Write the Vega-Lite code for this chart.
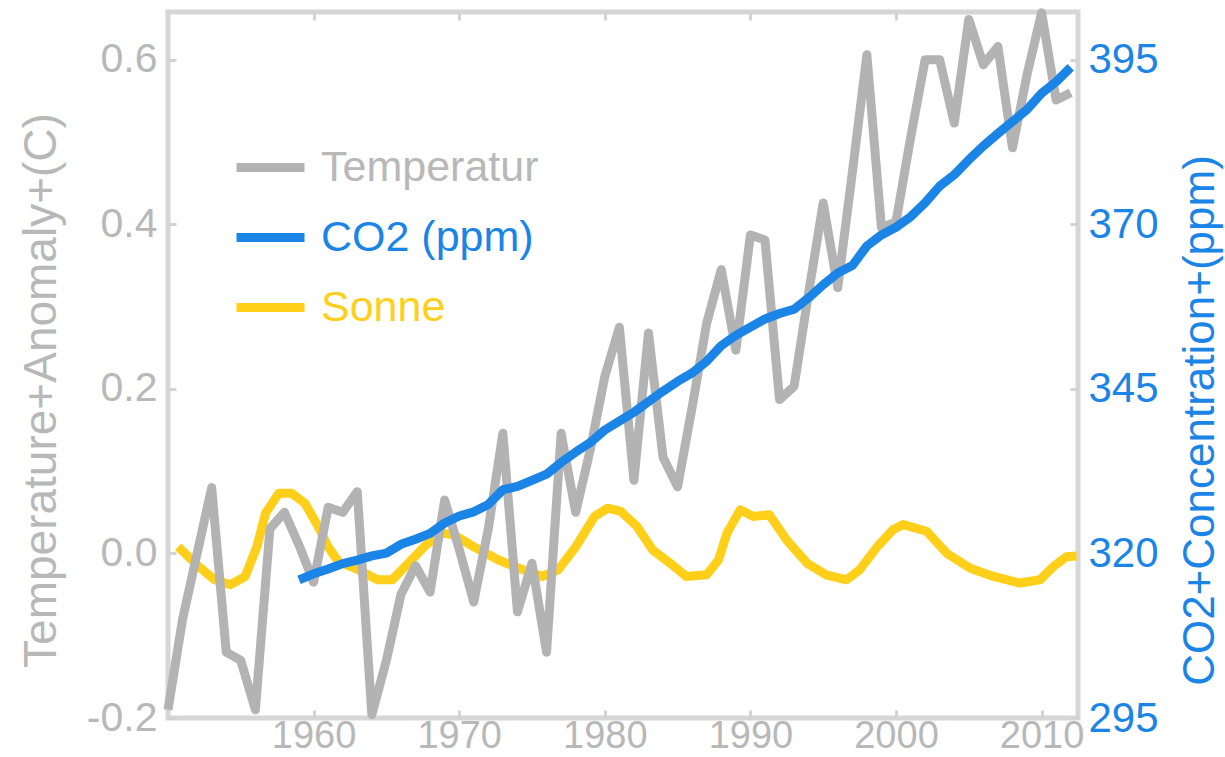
{
  "$schema": "https://vega.github.io/schema/vega-lite/v6.json",
  "width": 910,
  "height": 706,
  "autosize": {"type": "none"},
  "padding": {"left": 168, "top": 12, "right": 147, "bottom": 39},
  "background": "white",
  "config": {
    "view": {"stroke": "#d6d6d6", "strokeWidth": 5},
    "font": "Liberation Sans"
  },
  "datasets": {
    "temp": [
      {"year": 1950, "value": -0.19}, {"year": 1951, "value": -0.08}, {"year": 1952, "value": 0.0}, {"year": 1953, "value": 0.08},
      {"year": 1954, "value": -0.12}, {"year": 1955, "value": -0.13}, {"year": 1956, "value": -0.19}, {"year": 1957, "value": 0.03},
      {"year": 1958, "value": 0.05}, {"year": 1959, "value": 0.01}, {"year": 1960, "value": -0.035}, {"year": 1961, "value": 0.056},
      {"year": 1962, "value": 0.05}, {"year": 1963, "value": 0.075}, {"year": 1964, "value": -0.196}, {"year": 1965, "value": -0.13},
      {"year": 1966, "value": -0.05}, {"year": 1967, "value": -0.015}, {"year": 1968, "value": -0.047}, {"year": 1969, "value": 0.065},
      {"year": 1970, "value": 0.005}, {"year": 1971, "value": -0.059}, {"year": 1972, "value": 0.03}, {"year": 1973, "value": 0.146},
      {"year": 1974, "value": -0.071}, {"year": 1975, "value": -0.012}, {"year": 1976, "value": -0.12}, {"year": 1977, "value": 0.146},
      {"year": 1978, "value": 0.05}, {"year": 1979, "value": 0.126}, {"year": 1980, "value": 0.215}, {"year": 1981, "value": 0.275},
      {"year": 1982, "value": 0.089}, {"year": 1983, "value": 0.268}, {"year": 1984, "value": 0.117}, {"year": 1985, "value": 0.081},
      {"year": 1986, "value": 0.178}, {"year": 1987, "value": 0.28}, {"year": 1988, "value": 0.345}, {"year": 1989, "value": 0.247},
      {"year": 1990, "value": 0.387}, {"year": 1991, "value": 0.381}, {"year": 1992, "value": 0.187}, {"year": 1993, "value": 0.203},
      {"year": 1994, "value": 0.317}, {"year": 1995, "value": 0.426}, {"year": 1996, "value": 0.323}, {"year": 1997, "value": 0.463},
      {"year": 1998, "value": 0.606}, {"year": 1999, "value": 0.396}, {"year": 2000, "value": 0.403}, {"year": 2001, "value": 0.505},
      {"year": 2002, "value": 0.6}, {"year": 2003, "value": 0.6}, {"year": 2004, "value": 0.523}, {"year": 2005, "value": 0.649},
      {"year": 2006, "value": 0.594}, {"year": 2007, "value": 0.616}, {"year": 2008, "value": 0.493}, {"year": 2009, "value": 0.582},
      {"year": 2010, "value": 0.657}, {"year": 2011, "value": 0.551}, {"year": 2012, "value": 0.56}
    ],
    "sun": [
      {"year": 1950.7, "value": 0.008}, {"year": 1952.1, "value": -0.016}, {"year": 1953.2, "value": -0.032}, {"year": 1954.3, "value": -0.038},
      {"year": 1955.3, "value": -0.028}, {"year": 1956.1, "value": 0.008}, {"year": 1956.7, "value": 0.049}, {"year": 1957.6, "value": 0.073},
      {"year": 1958.5, "value": 0.073}, {"year": 1959.4, "value": 0.061}, {"year": 1960.3, "value": 0.033}, {"year": 1961.0, "value": 0.008},
      {"year": 1961.7, "value": -0.01}, {"year": 1963.1, "value": -0.02}, {"year": 1964.4, "value": -0.032}, {"year": 1965.4, "value": -0.032},
      {"year": 1966.5, "value": -0.012}, {"year": 1967.7, "value": 0.01}, {"year": 1968.8, "value": 0.025}, {"year": 1969.7, "value": 0.022},
      {"year": 1970.8, "value": 0.01}, {"year": 1972.7, "value": -0.008}, {"year": 1974.1, "value": -0.018}, {"year": 1975.7, "value": -0.028},
      {"year": 1976.8, "value": -0.02}, {"year": 1978.0, "value": 0.008}, {"year": 1979.3, "value": 0.045}, {"year": 1980.2, "value": 0.055},
      {"year": 1981.1, "value": 0.051}, {"year": 1982.2, "value": 0.033}, {"year": 1983.3, "value": 0.004}, {"year": 1984.5, "value": -0.012},
      {"year": 1985.6, "value": -0.028}, {"year": 1987.0, "value": -0.026}, {"year": 1987.8, "value": -0.008}, {"year": 1988.4, "value": 0.025},
      {"year": 1989.3, "value": 0.053}, {"year": 1990.2, "value": 0.045}, {"year": 1991.3, "value": 0.047}, {"year": 1992.5, "value": 0.016},
      {"year": 1993.9, "value": -0.012}, {"year": 1995.2, "value": -0.026}, {"year": 1996.6, "value": -0.032}, {"year": 1997.5, "value": -0.02},
      {"year": 1998.7, "value": 0.008}, {"year": 1999.8, "value": 0.029}, {"year": 2000.5, "value": 0.035}, {"year": 2002.1, "value": 0.027},
      {"year": 2003.5, "value": 0.0}, {"year": 2005.1, "value": -0.018}, {"year": 2006.7, "value": -0.028}, {"year": 2008.5, "value": -0.036},
      {"year": 2009.9, "value": -0.032}, {"year": 2010.8, "value": -0.016}, {"year": 2011.7, "value": -0.004}, {"year": 2012.4, "value": -0.003}
    ],
    "co2": [
      {"year": 1959, "value": 315.97}, {"year": 1960, "value": 316.91}, {"year": 1961, "value": 317.64}, {"year": 1962, "value": 318.45},
      {"year": 1963, "value": 318.99}, {"year": 1964, "value": 319.62}, {"year": 1965, "value": 320.04}, {"year": 1966, "value": 321.38},
      {"year": 1967, "value": 322.16}, {"year": 1968, "value": 323.04}, {"year": 1969, "value": 324.62}, {"year": 1970, "value": 325.68},
      {"year": 1971, "value": 326.32}, {"year": 1972, "value": 327.45}, {"year": 1973, "value": 329.68}, {"year": 1974, "value": 330.18},
      {"year": 1975, "value": 331.11}, {"year": 1976, "value": 332.04}, {"year": 1977, "value": 333.83}, {"year": 1978, "value": 335.4},
      {"year": 1979, "value": 336.84}, {"year": 1980, "value": 338.75}, {"year": 1981, "value": 340.11}, {"year": 1982, "value": 341.45},
      {"year": 1983, "value": 343.05}, {"year": 1984, "value": 344.65}, {"year": 1985, "value": 346.12}, {"year": 1986, "value": 347.42},
      {"year": 1987, "value": 349.19}, {"year": 1988, "value": 351.57}, {"year": 1989, "value": 353.12}, {"year": 1990, "value": 354.39},
      {"year": 1991, "value": 355.61}, {"year": 1992, "value": 356.45}, {"year": 1993, "value": 357.1}, {"year": 1994, "value": 358.83},
      {"year": 1995, "value": 360.82}, {"year": 1996, "value": 362.61}, {"year": 1997, "value": 363.73}, {"year": 1998, "value": 366.7},
      {"year": 1999, "value": 368.38}, {"year": 2000, "value": 369.55}, {"year": 2001, "value": 371.14}, {"year": 2002, "value": 373.28},
      {"year": 2003, "value": 375.8}, {"year": 2004, "value": 377.52}, {"year": 2005, "value": 379.8}, {"year": 2006, "value": 381.9},
      {"year": 2007, "value": 383.79}, {"year": 2008, "value": 385.6}, {"year": 2009, "value": 387.43}, {"year": 2010, "value": 389.9},
      {"year": 2011, "value": 391.65}, {"year": 2012, "value": 393.85}
    ]
  },
  "layer": [
    {
      "layer": [
        {
          "data": {"name": "sun"},
          "mark": {"type": "line", "strokeWidth": 9, "strokeJoin": "round"},
          "encoding": {
            "x": {
              "field": "year", "type": "quantitative",
              "scale": {"domain": [1950, 2012.5], "nice": false, "zero": false},
              "axis": {"orient": "bottom", "values": [1960, 1970, 1980, 1990, 2000, 2010], "format": "d", "title": null,
                "labelFont": "Liberation Sans", "labelFontSize": 38, "labelColor": "#b8b8b8", "labelPadding": 37, "labelBaseline": "alphabetic",
                "tickSize": -8, "tickColor": "#d3d3d3", "tickWidth": 3, "domain": false, "grid": false, "labelFlush": false}
            },
            "y": {
              "field": "value", "type": "quantitative",
              "scale": {"domain": [-0.2, 0.658], "nice": false, "zero": false},
              "axis": {"orient": "left", "values": [-0.2, 0, 0.2, 0.4, 0.6], "format": ".1f", "labelExpr": "replace(datum.label, '\u2212', '-')",
                "title": "Temperature+Anomaly+(C)", "titleColor": "#b8b8b8", "titleFontSize": 46, "titleFontWeight": "normal",
                "titleX": -127, "titleY": 378, "titleAngle": -90, "titleAlign": "center", "titleBaseline": "middle",
                "labelColor": "#b8b8b8", "labelFontSize": 41, "labelPadding": 19, "labelBaseline": "middle",
                "tickSize": -8, "tickColor": "#d3d3d3", "tickWidth": 3, "domain": false, "grid": false}
            },
            "color": {
              "datum": "Sonne", "type": "nominal",
              "scale": {"domain": ["Temperatur", "CO2 (ppm)", "Sonne"], "range": ["#b3b3b3", "#1a85e6", "#ffcf1a"]},
              "legend": {
                "orient": "none", "legendX": 64, "legendY": 117, "title": null, "padding": 0,
                "symbolType": "stroke", "symbolSize": 4624, "symbolStrokeWidth": 9,
                "labelFontSize": 43, "labelOffset": 12, "rowPadding": 9, "labelLimit": 500,
                "labelColor": {"expr": "datum.value === 'Temperatur' ? '#b8b8b8' : (datum.value === 'Sonne' ? '#ffcf1a' : '#1a85e6')"}
              }
            }
          }
        },
        {
          "data": {"name": "temp"},
          "mark": {"type": "line", "strokeWidth": 9, "strokeJoin": "round"},
          "encoding": {
            "x": {"field": "year", "type": "quantitative"},
            "y": {"field": "value", "type": "quantitative"},
            "color": {"datum": "Temperatur", "type": "nominal"}
          }
        }
      ]
    },
    {
      "data": {"name": "co2"},
      "mark": {"type": "line", "strokeWidth": 9, "strokeJoin": "round"},
      "encoding": {
        "x": {"field": "year", "type": "quantitative",
          "axis": {"orient": "top", "values": [1960, 1970, 1980, 1990, 2000, 2010], "labels": false, "title": null,
            "tickSize": -8, "tickColor": "#d3d3d3", "tickWidth": 3, "domain": false, "grid": false}},
        "y": {
          "field": "value", "type": "quantitative",
          "scale": {"domain": [295, 402.25], "nice": false, "zero": false},
          "axis": {"orient": "right", "values": [295, 320, 345, 370, 395],
            "title": "CO2+Concentration+(ppm)", "titleColor": "#1a85e6", "titleFontSize": 44, "titleFontWeight": "normal",
            "titleX": 122, "titleY": 408, "titleAngle": -90, "titleAlign": "center", "titleBaseline": "middle",
            "labelColor": "#1a85e6", "labelFontSize": 42, "labelPadding": 18, "labelBaseline": "middle", "labelAlign": "left",
            "tickSize": -8, "tickColor": "#d3d3d3", "tickWidth": 3, "domain": false, "grid": false}
        },
        "color": {"datum": "CO2 (ppm)", "type": "nominal"}
      }
    }
  ],
  "resolve": {"scale": {"y": "independent"}, "axis": {"y": "independent", "x": "independent"}}
}
